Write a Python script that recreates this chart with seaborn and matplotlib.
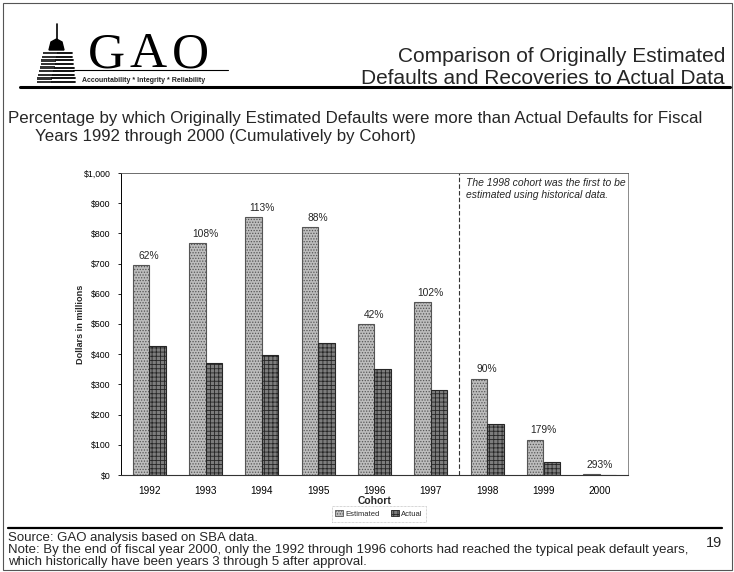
import numpy as np
import pandas as pd
import matplotlib
matplotlib.use("Agg")
import matplotlib.pyplot as plt
from matplotlib.patches import Patch, Rectangle, Polygon
from matplotlib.ticker import FuncFormatter
import seaborn as sns

# Cumulative defaults by cohort, dollars in millions
cohorts = ["1992", "1993", "1994", "1995", "1996", "1997", "1998", "1999", "2000"]
estimated = [695, 769, 853, 820, 500, 572, 319, 117, 3.9]
actual = [428, 370, 398, 436, 351, 283, 168, 42, 1.0]
pct_labels = ["62%", "108%", "113%", "88%", "42%", "102%", "90%", "179%", "293%"]
series = ["Estimated", "Actual"]
y_ticks = list(range(0, 1001, 100))

df = pd.DataFrame({
    "Cohort": cohorts * 2,
    "Series": [series[0]] * len(cohorts) + [series[1]] * len(cohorts),
    "Value": estimated + actual,
})

sns.set_theme(style="white")
plt.rcParams["font.family"] = ["Liberation Sans", "DejaVu Sans"]
plt.rcParams["hatch.linewidth"] = 0.6

W, H = 734, 572
fig = plt.figure(figsize=(W / 100, H / 100), dpi=100)
fig.patch.set_facecolor("white")

# Page-level canvas in pixel coordinates for header, footer and frame
bg = fig.add_axes([0, 0, 1, 1], zorder=-1)
bg.set_xlim(0, W)
bg.set_ylim(H, 0)
bg.axis("off")

# page frame
bg.add_patch(Rectangle((3, 3), W - 5, H - 5, fill=False, lw=0.8, ec="#555555"))

# logo: capitol dome
bg.plot([56.5, 56.5], [24, 40], color="black", lw=1.2)
bg.add_patch(Polygon([[49, 50], [51, 42], [56.5, 39], [62, 42], [64, 50]], closed=True, fc="black", ec="black"))
for i, yy in enumerate(np.arange(52, 82, 3.6)):
    x0 = 43 - i * 0.8
    bg.add_patch(Rectangle((x0, yy), 15, 2.4, fc="#333333", ec="none"))
    bg.plot([x0 + 15, 72 + i * 0.4], [yy + 1.2, yy + 1.2], color="black", lw=1.3)
for xx, letter in zip([106, 148, 190], "GAO"):
    bg.text(xx, 67, letter, family=["Liberation Serif", "DejaVu Serif"], fontsize=37,
            ha="center", va="baseline", color="black")
bg.plot([73, 228], [70, 70], color="black", lw=0.8)
bg.text(82, 80, "Accountability * Integrity * Reliability", fontsize=5, fontweight="bold",
        va="center", ha="left", color="#222222")
bg.plot([20, 730], [87, 87], color="black", lw=2.2)

# header title
bg.text(725, 56, "Comparison of Originally Estimated", fontsize=15, ha="right", va="center")
bg.text(725, 78, "Defaults and Recoveries to Actual Data", fontsize=15, ha="right", va="center")

# chart subtitle
bg.text(8, 118, "Percentage by which Originally Estimated Defaults were more than Actual Defaults for Fiscal",
        fontsize=12.2, ha="left", va="center")
bg.text(35, 137, "Years 1992 through 2000 (Cumulatively by Cohort)", fontsize=12.2, ha="left", va="center")

# footer
bg.plot([8, 722], [528, 528], color="black", lw=1.6)
bg.text(8, 538, "Source: GAO analysis based on SBA data.", fontsize=9.5, va="center")
bg.text(8, 550.5, "Note: By the end of fiscal year 2000, only the 1992 through 1996 cohorts had reached the typical peak default years,",
        fontsize=9.5, va="center")
bg.text(8, 562.5, "which historically have been years 3 through 5 after approval.", fontsize=9.5, va="center")
bg.text(714, 543, "19", fontsize=10.5, ha="center", va="center")

# main chart
ax = fig.add_axes([121 / W, 1 - 475 / H, (628 - 121) / W, (475 - 173) / H])
est_color, act_color = "#bdbdbd", "#7d7d7d"
sns.barplot(data=df, x="Cohort", y="Value", hue="Series", order=cohorts, hue_order=series,
            palette=[est_color, act_color], width=0.58, saturation=1, legend=False,
            edgecolor="#222222", linewidth=0.8, ax=ax)

hatches = ["......", "++++"]
hatch_edges = ["#555555", "#262626"]
for cont, hatch, hc in zip(ax.containers, hatches, hatch_edges):
    for bar in cont:
        bar.set_hatch(hatch)
        bar.set_edgecolor(hc)

for i, (est, lab) in enumerate(zip(estimated, pct_labels)):
    ax.annotate(lab, (i, est), xytext=(0, 3), textcoords="offset points",
                ha="center", va="bottom", fontsize=7.4)

ax.set_xlim(-0.5, 8.5)
ax.set_ylim(0, 1000)
ax.set_yticks(y_ticks)
ax.yaxis.set_major_formatter(FuncFormatter(lambda v, _: f"${int(v):,}"))
ax.tick_params(axis="y", labelsize=6.3, length=2.5, width=0.6, pad=5, left=True, colors="black")
ax.tick_params(axis="x", labelsize=7.2, length=0, pad=8, colors="black")
ax.set_ylabel("Dollars in millions", fontsize=6.6, fontweight="bold")
ax.yaxis.set_label_coords(-0.071, 0.5)
ax.set_xlabel("Cohort", fontsize=7.4, fontweight="bold", labelpad=0)

for side in ["left", "bottom", "top", "right"]:
    ax.spines[side].set_visible(True)
ax.spines["left"].set_color("black")
ax.spines["left"].set_linewidth(0.7)
ax.spines["bottom"].set_color("#333333")
ax.spines["bottom"].set_linestyle((0, (2, 1)))
ax.spines["bottom"].set_linewidth(0.8)
ax.spines["top"].set_color("#555555")
ax.spines["top"].set_linewidth(0.6)
ax.spines["right"].set_color("#777777")
ax.spines["right"].set_linestyle((0, (1, 1)))
ax.spines["right"].set_linewidth(0.6)

ax.axvline(5.5, color="#333333", lw=0.8, ls=(0, (4, 2)))
ax.text(5.62, 985, "The 1998 cohort was the first to be\nestimated using historical data.",
        style="italic", fontsize=7.5, va="top", ha="left", linespacing=1.3)

handles = [Patch(facecolor=est_color, edgecolor=hatch_edges[0], hatch=hatches[0], lw=0.6, label="Estimated"),
           Patch(facecolor=act_color, edgecolor=hatch_edges[1], hatch=hatches[1], lw=0.6, label="Actual")]
leg = fig.legend(handles=handles, loc="center", bbox_to_anchor=(379 / W, 1 - 514 / H), ncol=2,
                 fontsize=5.5, frameon=True, handlelength=1.0, handleheight=0.9, handletextpad=0.3,
                 columnspacing=1.5, borderpad=0.5, fancybox=False)
leg.get_frame().set_edgecolor("#999999")
leg.get_frame().set_linewidth(0.5)
leg.get_frame().set_linestyle((0, (1, 1)))

fig.savefig("out.png", dpi=100, facecolor="white")
